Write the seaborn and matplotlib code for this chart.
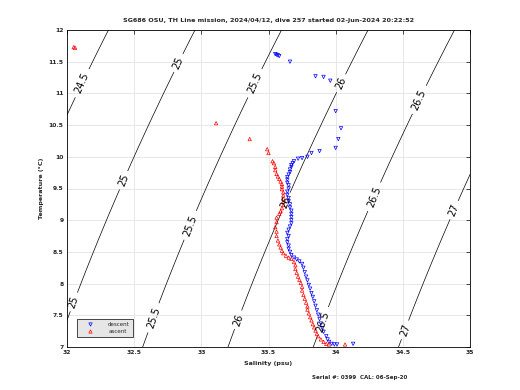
import numpy as np
import pandas as pd
import matplotlib
matplotlib.use("Agg")
import matplotlib.pyplot as plt
from matplotlib.lines import Line2D
import seaborn as sns

# ---------------- data ----------------
title = "SG686 OSU, TH Line mission, 2024/04/12, dive 257 started 02-Jun-2024 20:22:52"
footer = "Serial #: 0399  CAL: 06-Sep-20"
x_label = "Salinity (psu)"
y_label = "Temperature (\u00b0C)"
series_names = ["descent", "ascent"]
sigma_levels = [24.5, 25.0, 25.5, 26.0, 26.5, 27.0]
xticks = [32, 32.5, 33, 33.5, 34, 34.5, 35]
xticklabels = ["32", "32.5", "33", "33.5", "34", "34.5", "35"]
yticks = [7, 7.5, 8, 8.5, 9, 9.5, 10, 10.5, 11, 11.5, 12]
yticklabels = ["7", "7.5", "8", "8.5", "9", "9.5", "10", "10.5", "11", "11.5", "12"]

descent_salinity = [33.55, 33.56, 33.57, 33.58, 33.66, 33.85, 33.91, 33.96, 34.00, 34.04,
                    34.02, 34.00, 33.88, 33.82, 33.79, 33.75, 33.72, 33.69, 33.68, 33.67,
                    33.67, 33.66, 33.66, 33.65, 33.64, 33.64, 33.64, 33.65, 33.65, 33.64,
                    33.64, 33.65, 33.65, 33.66, 33.66, 33.67, 33.67, 33.67, 33.67, 33.67,
                    33.66, 33.65, 33.64, 33.65, 33.64, 33.64, 33.65, 33.65, 33.66, 33.67,
                    33.69, 33.71, 33.73, 33.75, 33.76, 33.77, 33.78, 33.79, 33.80, 33.81,
                    33.82, 33.83, 33.84, 33.85, 33.86, 33.87, 33.88, 33.89, 33.90, 33.91,
                    33.93, 33.94, 33.95, 33.97, 33.99, 34.01, 34.13]
descent_temperature = [11.62, 11.61, 11.60, 11.59, 11.50, 11.27, 11.26, 11.20, 10.72, 10.45,
                       10.28, 10.14, 10.09, 10.06, 10.00, 9.98, 9.97, 9.93, 9.90, 9.87,
                       9.84, 9.80, 9.76, 9.72, 9.68, 9.64, 9.59, 9.55, 9.50, 9.45,
                       9.40, 9.35, 9.30, 9.25, 9.20, 9.15, 9.10, 9.05, 9.00, 8.95,
                       8.90, 8.85, 8.80, 8.75, 8.70, 8.65, 8.60, 8.55, 8.50, 8.45,
                       8.41, 8.38, 8.35, 8.31, 8.25, 8.18, 8.11, 8.05, 7.98, 7.92,
                       7.85, 7.79, 7.72, 7.65, 7.58, 7.51, 7.44, 7.37, 7.30, 7.24,
                       7.17, 7.12, 7.08, 7.05, 7.04, 7.04, 7.05]

ascent_salinity = [34.07, 33.95, 33.93, 33.91, 33.89, 33.87, 33.86, 33.85, 33.84, 33.83,
                   33.82, 33.81, 33.80, 33.79, 33.79, 33.78, 33.77, 33.76, 33.75, 33.75,
                   33.74, 33.73, 33.72, 33.71, 33.70, 33.70, 33.69, 33.67, 33.65, 33.63,
                   33.61, 33.60, 33.59, 33.58, 33.57, 33.56, 33.56, 33.55, 33.56, 33.56,
                   33.58, 33.59, 33.60, 33.61, 33.61, 33.61, 33.61, 33.61, 33.60, 33.60,
                   33.60, 33.59, 33.58, 33.57, 33.56, 33.55, 33.55, 33.54, 33.53, 33.50,
                   33.49, 33.36, 33.11, 32.05, 32.06]
ascent_temperature = [7.04, 7.04, 7.05, 7.08, 7.12, 7.17, 7.21, 7.26, 7.31, 7.36,
                      7.42, 7.47, 7.53, 7.59, 7.64, 7.70, 7.76, 7.82, 7.89, 7.95,
                      8.01, 8.06, 8.11, 8.17, 8.23, 8.29, 8.34, 8.39, 8.41, 8.44,
                      8.48, 8.52, 8.57, 8.62, 8.68, 8.75, 8.82, 8.89, 8.97, 9.04,
                      9.10, 9.14, 9.19, 9.24, 9.29, 9.34, 9.39, 9.44, 9.49, 9.53,
                      9.57, 9.61, 9.65, 9.69, 9.73, 9.79, 9.84, 9.90, 9.93, 10.06,
                      10.12, 10.28, 10.53, 11.73, 11.72]

# temperatures at which each contour carries a label
label_temps = {24.5: [11.16], 25.0: [11.48, 9.63, 7.71], 25.5: [11.16, 8.92, 7.46],
               26.0: [11.16, 9.29, 7.43], 26.5: [10.9, 9.37, 7.4], 27.0: [9.16, 7.27]}


def sigma_theta(S, T):
    # UNESCO 1983 equation of state at the surface
    rw = (999.842594 + 6.793952e-2 * T - 9.095290e-3 * T**2 + 1.001685e-4 * T**3
          - 1.120083e-6 * T**4 + 6.536332e-9 * T**5)
    A = 8.24493e-1 - 4.0899e-3 * T + 7.6438e-5 * T**2 - 8.2467e-7 * T**3 + 5.3875e-9 * T**4
    B = -5.72466e-3 + 1.0227e-4 * T - 1.6546e-6 * T**2
    C = 4.8314e-4
    return rw + A * S + B * S**1.5 + C * S**2 - 1000.0


df = pd.concat([
    pd.DataFrame({"S": descent_salinity, "T": descent_temperature, "cast": series_names[0]}),
    pd.DataFrame({"S": ascent_salinity, "T": ascent_temperature, "cast": series_names[1]}),
], ignore_index=True)

sns.set_style("white")
plt.rcParams["font.family"] = ["DejaVu Sans"]

fig = plt.figure(figsize=(5.2, 3.9), dpi=100)
ax = fig.add_axes([67 / 520, 43 / 390, 403 / 520, 317 / 390])

# density contours
Sg = np.linspace(31.5, 35.5, 400)
Tg = np.linspace(6.5, 12.5, 300)
SS, TT = np.meshgrid(Sg, Tg)
SIG = sigma_theta(SS, TT)
cs = ax.contour(SS, TT, SIG, levels=sigma_levels, colors="black", linewidths=0.5, zorder=2)
positions = []
for lev, temps in label_temps.items():
    for t in temps:
        s = np.interp(lev, sigma_theta(Sg, t), Sg)
        positions.append((s, t))
ax.clabel(cs, inline=True, fontsize=7, fmt=lambda v: f"{v:g}", manual=positions, inline_spacing=2)

colors = {"descent": "#0000ff", "ascent": "#ff0000"}
markers = {"descent": "v", "ascent": "^"}
for name in series_names:
    sub = df[df["cast"] == name]
    sns.scatterplot(data=sub, x="S", y="T", marker=markers[name], s=6, ax=ax,
                    color=colors[name], linewidth=0.5, zorder=3, legend=False)
for coll, name in zip(ax.collections[-2:], series_names):
    coll.set_facecolor("none")
    coll.set_edgecolor(colors[name])

ax.set_xlim(32, 35)
ax.set_ylim(7, 12)
ax.set_xticks(xticks)
ax.set_xticklabels(xticklabels)
ax.set_yticks(yticks)
ax.set_yticklabels(yticklabels)
ax.grid(True, color="#e3e3e3", linewidth=0.6, zorder=0)
ax.set_axisbelow(True)
ax.tick_params(direction="in", length=3, width=0.5, top=True, right=True,
               labelsize=4.3, pad=2.5, colors="black")
for lab in ax.get_xticklabels() + ax.get_yticklabels():
    lab.set_fontweight("bold")
    lab.set_color("#262626")
for sp in ax.spines.values():
    sp.set_linewidth(0.6)
    sp.set_color("black")

ax.set_xlabel(x_label, fontsize=4.6, fontweight="bold", labelpad=4)
ax.set_ylabel(y_label, fontsize=4.6, fontweight="bold", labelpad=3)
ax.set_title(title, fontsize=4.6, fontweight="bold", pad=6)

handles = [Line2D([], [], linestyle="none", marker=markers[n], markersize=2.4,
                  markerfacecolor="none", markeredgecolor=colors[n], markeredgewidth=0.5)
           for n in series_names]
leg = ax.legend(handles, series_names, loc="lower left", bbox_to_anchor=(0.025, 0.032),
                borderaxespad=0, fontsize=4, frameon=True, fancybox=False,
                handlelength=3.6, handletextpad=1.4, borderpad=0.6, labelspacing=0.3)
leg.get_frame().set_facecolor("#e6e6e6")
leg.get_frame().set_edgecolor("black")
leg.get_frame().set_linewidth(0.5)
leg.get_frame().set_alpha(1)

fig.text(312 / 520, 1 - 378 / 390, footer, fontsize=3.95, fontweight="bold",
         ha="left", va="center")

fig.savefig("out.png", dpi=100, facecolor="white")
